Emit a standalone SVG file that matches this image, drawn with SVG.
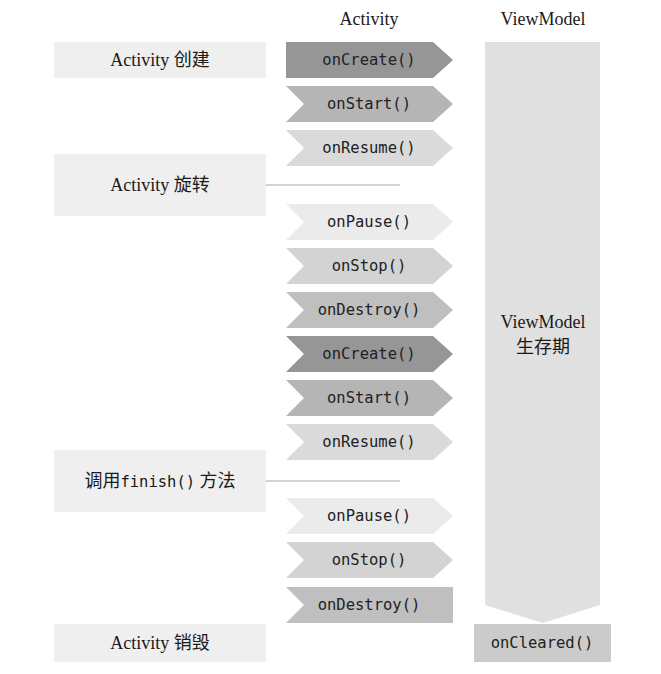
<svg xmlns="http://www.w3.org/2000/svg" width="661" height="674" viewBox="0 0 661 674">
<style>
.serif{font-family:"Liberation Serif","Noto Sans CJK SC",serif;font-size:18px;fill:#1a1a1a;text-anchor:middle}
.mono{font-family:"DejaVu Sans Mono","Liberation Mono",monospace;font-size:15.5px;fill:#222222;text-anchor:middle}
.lbl{fill:#efefef}
.c1{fill:#969696}.c2{fill:#b5b5b5}.c3{fill:#dadada}.c4{fill:#ebebeb}.c5{fill:#d3d3d3}.c6{fill:#bfbfbf}
.conn{stroke:#d4d4d4;stroke-width:2;fill:none}
</style>
<rect width="661" height="674" fill="#ffffff"/>
<text class="serif" x="369" y="25">Activity</text>
<text class="serif" x="543" y="25">ViewModel</text>

<g id="vm-life">
<path d="M485,42 H600 V605 L543,623 L485,605 Z" fill="#e0e0e0"/>
<text class="serif" x="543" y="328">ViewModel</text>
<text class="serif" x="543" y="353">生存期</text>
</g>
<g id="vm-oncleared">
<rect x="474" y="624" width="137" height="38" fill="#cbcbcb"/>
<text class="mono" x="542" y="648">onCleared()</text>
</g>

<g id="lbl-create"><rect class="lbl" x="54" y="42" width="212" height="36"/><text class="serif" x="160" y="66">Activity 创建</text></g>
<g id="lbl-rotate"><rect class="lbl" x="54" y="154" width="212" height="62"/><text class="serif" x="160" y="191">Activity 旋转</text></g>
<g id="lbl-finish"><rect class="lbl" x="54" y="450" width="212" height="62"/><text class="serif" x="160" y="487">调用<tspan font-family="DejaVu Sans Mono, monospace" font-size="15.5">finish()</tspan> 方法</text></g>
<g id="lbl-destroy"><rect class="lbl" x="54" y="624" width="212" height="38"/><text class="serif" x="160" y="649">Activity 销毁</text></g>

<g id="connectors">
<line class="conn" x1="266" y1="185" x2="400" y2="185"/>
<line class="conn" x1="266" y1="481" x2="400" y2="481"/>
</g>

<g id="a-oncreate1"><path class="c1" d="M286,42 H433 L453,60 L433,78 H286 Z"/><text class="mono" x="369" y="65">onCreate()</text></g>
<g id="a-onstart1"><path class="c2" d="M286,86 H433 L453,104 L433,122 H286 L304,104 Z"/><text class="mono" x="369" y="109">onStart()</text></g>
<g id="a-onresume1"><path class="c3" d="M286,130 H433 L453,148 L433,166 H286 L304,148 Z"/><text class="mono" x="369" y="153">onResume()</text></g>
<g id="a-onpause1"><path class="c4" d="M286,204 H433 L453,222 L433,240 H286 L304,222 Z"/><text class="mono" x="369" y="227">onPause()</text></g>
<g id="a-onstop1"><path class="c5" d="M286,248 H433 L453,266 L433,284 H286 L304,266 Z"/><text class="mono" x="369" y="271">onStop()</text></g>
<g id="a-ondestroy1"><path class="c6" d="M286,292 H433 L453,310 L433,328 H286 L304,310 Z"/><text class="mono" x="369" y="315">onDestroy()</text></g>
<g id="a-oncreate2"><path class="c1" d="M286,336 H433 L453,354 L433,372 H286 L304,354 Z"/><text class="mono" x="369" y="359">onCreate()</text></g>
<g id="a-onstart2"><path class="c2" d="M286,380 H433 L453,398 L433,416 H286 L304,398 Z"/><text class="mono" x="369" y="403">onStart()</text></g>
<g id="a-onresume2"><path class="c3" d="M286,424 H433 L453,442 L433,460 H286 L304,442 Z"/><text class="mono" x="369" y="447">onResume()</text></g>
<g id="a-onpause2"><path class="c4" d="M286,498 H433 L453,516 L433,534 H286 L304,516 Z"/><text class="mono" x="369" y="521">onPause()</text></g>
<g id="a-onstop2"><path class="c5" d="M286,542 H433 L453,560 L433,578 H286 L304,560 Z"/><text class="mono" x="369" y="565">onStop()</text></g>
<g id="a-ondestroy2"><path class="c6" d="M286,587 H453 V623 H286 L304,605 Z"/><text class="mono" x="369" y="610">onDestroy()</text></g>
</svg>
